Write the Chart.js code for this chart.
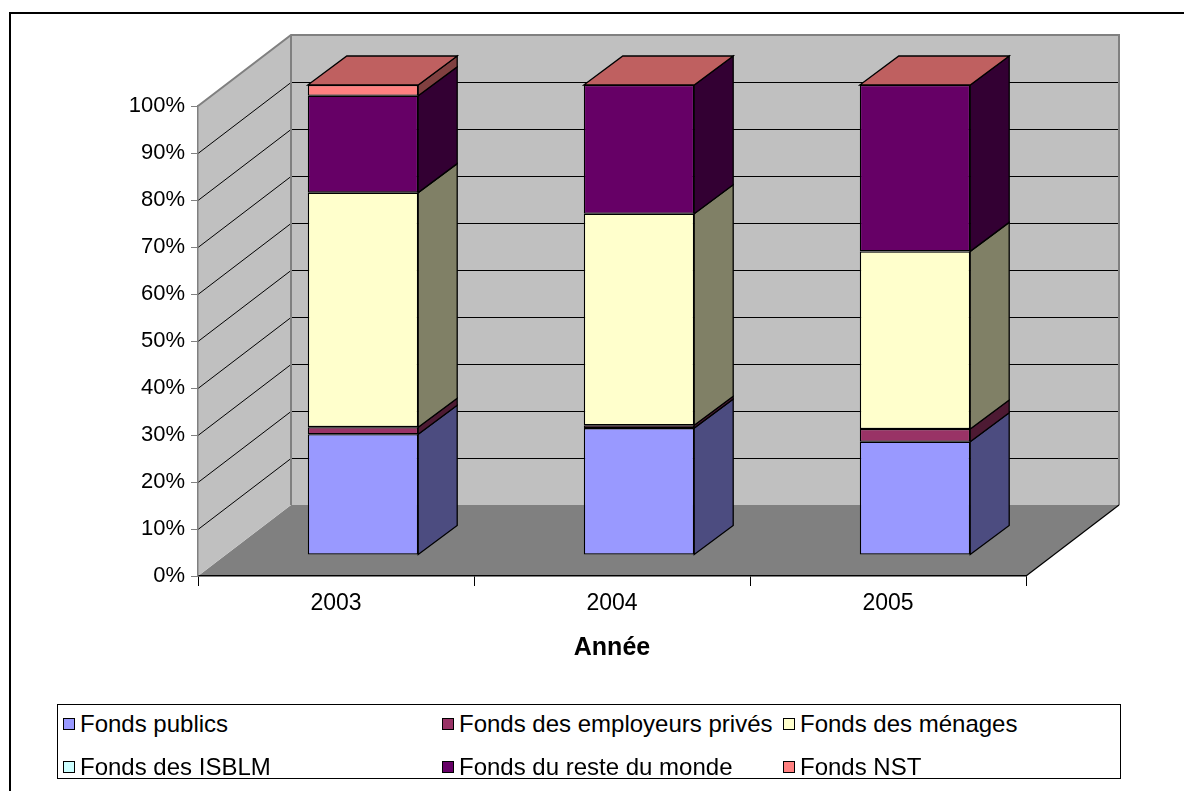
<!DOCTYPE html>
<html><head><meta charset="utf-8">
<script src="https://cdn.jsdelivr.net/npm/chart.js@4.4.0/dist/chart.umd.min.js"></script>
<style>
html,body{margin:0;padding:0;background:#fff;overflow:hidden;}
#wrap{position:relative;width:1184px;height:791px;overflow:hidden;}
#frame{position:absolute;left:9px;top:12px;width:1200px;height:800px;border:2px solid #000;box-sizing:border-box;}
canvas{position:absolute;left:0;top:0;}
#legend{position:absolute;left:57px;top:704px;width:1064px;height:75px;border:1px solid #000;box-sizing:border-box;background:#fff;font-family:'Liberation Sans',Arial,sans-serif;font-size:24px;color:#000;}
.item{position:absolute;display:flex;align-items:center;white-space:nowrap;height:28px;}
.sw{width:12px;height:12px;border:1px solid #000;box-sizing:border-box;margin-right:5px;}
</style></head>
<body><div id="wrap"><div id="frame"></div><canvas id="c" width="1184" height="791"></canvas><div id="legend"></div></div>
<script>
// ---- data ----
const categories = ['2003', '2004', '2005'];
const seriesNames = ['Fonds publics', 'Fonds des employeurs privés', 'Fonds des ménages', 'Fonds des ISBLM', 'Fonds du reste du monde', 'Fonds NST'];
const fondsPublics = [25.7, 27.0, 24.1];
const fondsEmployeurs = [1.5, 0.6, 2.7];
const fondsMenages = [49.9, 45.0, 37.8];
const fondsISBLM = [0, 0, 0];
const fondsResteMonde = [20.6, 27.4, 35.4];
const fondsNST = [2.3, 0, 0];
const yTickValues = [0, 10, 20, 30, 40, 50, 60, 70, 80, 90, 100];
const axisTitle = 'Année';

// ---- styles ----
const frontColors = ['#9999FF', '#993366', '#FFFFCC', '#CCFFFF', '#660066', '#FF8080'];
const sideColors  = ['#4C4C80', '#4D1A33', '#808066', '#668080', '#330033', '#804040'];
const topColors   = ['#7373BF', '#73264D', '#BFBF99', '#99BFBF', '#4D004D', '#BF6060'];
const seriesValues = [fondsPublics, fondsEmployeurs, fondsMenages, fondsISBLM, fondsResteMonde, fondsNST];

const wallDepth = {dx: 93, dy: -71};
const barShift = {dx: 27, dy: -21};
const barDepth = {dx: 39, dy: -29};
const FONT = "'Liberation Sans', Arial, sans-serif";

function poly(ctx, pts, fill, stroke, lw) {
  ctx.beginPath();
  ctx.moveTo(pts[0][0], pts[0][1]);
  for (let i = 1; i < pts.length; i++) ctx.lineTo(pts[i][0], pts[i][1]);
  ctx.closePath();
  if (fill) { ctx.fillStyle = fill; ctx.fill(); }
  if (stroke) { ctx.strokeStyle = stroke; ctx.lineWidth = lw || 1; ctx.stroke(); }
}

const wallsPlugin = {
  id: 'walls',
  beforeDraw(chart) {
    const {ctx, chartArea: a, scales: {y}} = chart;
    const L = a.left, R = a.right, T = y.getPixelForValue(100), B = y.getPixelForValue(0);
    const dx = wallDepth.dx, dy = wallDepth.dy;
    ctx.save();
    poly(ctx, [[L, B], [R, B], [R + dx, B + dy], [L + dx, B + dy]], '#808080');
    poly(ctx, [[L, B], [L, T], [L + dx, T + dy], [L + dx, B + dy]], '#C0C0C0');
    poly(ctx, [[L + dx, T + dy], [R + dx, T + dy], [R + dx, B + dy], [L + dx, B + dy]], '#C0C0C0');
    ctx.strokeStyle = '#000'; ctx.lineWidth = 1;
    y.ticks.forEach(t => {
      if (t.value <= 0 || t.value >= 100) return;
      const py = Math.round(y.getPixelForValue(t.value)) + 0.5;
      ctx.beginPath();
      ctx.moveTo(L, py);
      ctx.lineTo(L + dx, py + dy);
      ctx.lineTo(R + dx, py + dy);
      ctx.stroke();
    });
    ctx.strokeStyle = '#808080'; ctx.lineWidth = 2;
    ctx.beginPath();
    ctx.moveTo(L, T); ctx.lineTo(L + dx, T + dy); ctx.lineTo(R + dx, T + dy); ctx.lineTo(R + dx, B + dy);
    ctx.moveTo(L + dx, T + dy); ctx.lineTo(L + dx, B + dy);
    ctx.stroke();
    ctx.strokeStyle = '#000'; ctx.lineWidth = 1.2;
    ctx.beginPath(); ctx.moveTo(R, B); ctx.lineTo(R + dx, B + dy); ctx.stroke();
    ctx.restore();
  }
};

const bars3dPlugin = {
  id: 'bars3d',
  beforeDatasetsDraw(chart) {
    chart.ctx.save();
    chart.ctx.translate(barShift.dx, barShift.dy);
  },
  afterDatasetsDraw(chart) {
    const ctx = chart.ctx;
    const n = chart.data.datasets.length;
    const dx = barDepth.dx, dy = barDepth.dy;
    for (let i = 0; i < categories.length; i++) {
      for (let d = 0; d < n; d++) {
        if (!seriesValues[d][i]) continue;
        const el = chart.getDatasetMeta(d).data[i];
        const p = el.getProps(['x', 'y', 'base', 'width'], true);
        const r = p.x + p.width / 2;
        const top = Math.min(p.y, p.base), bot = Math.max(p.y, p.base);
        poly(ctx, [[r, top], [r + dx, top + dy], [r + dx, bot + dy], [r, bot]], sideColors[d], '#000', 1.3);
      }
      const topEl = chart.getDatasetMeta(n - 1).data[i].getProps(['x', 'y', 'base', 'width'], true);
      const l = topEl.x - topEl.width / 2, r = topEl.x + topEl.width / 2, t = Math.min(topEl.y, topEl.base);
      poly(ctx, [[l, t], [l + dx, t + dy], [r + dx, t + dy], [r, t]], topColors[n - 1], '#000', 1.3);
    }
    ctx.restore();
  }
};

const datasets = seriesNames.map((name, k) => ({
  label: name,
  data: seriesValues[k],
  backgroundColor: frontColors[k],
  borderColor: '#000',
  borderWidth: c => (c.raw ? 1.3 : 0),
  borderSkipped: false,
  categoryPercentage: 0.8,
  barPercentage: 0.5,
  clip: false
}));

new Chart(document.getElementById('c'), {
  type: 'bar',
  data: {labels: categories, datasets},
  options: {
    responsive: false,
    animation: false,
    devicePixelRatio: 1,
    layout: {padding: {left: 10, top: 106, right: 158, bottom: 128}},
    plugins: {legend: {display: false}, tooltip: {enabled: false}},
    scales: {
      x: {
        stacked: true,
        grid: {offset: true, drawOnChartArea: false, color: '#000', tickLength: 10, lineWidth: 1},
        border: {color: '#000', width: 1.5},
        ticks: {color: '#000', font: {family: FONT, size: 23}, padding: 4, maxRotation: 0},
        title: {display: true, text: axisTitle, color: '#000', font: {family: FONT, size: 25, weight: 'bold'}, padding: {top: 0, bottom: 0}},
        afterFit: s => { s.height = 87; }
      },
      y: {
        stacked: true,
        min: 0, max: 100,
        afterBuildTicks: s => { s.ticks = yTickValues.map(v => ({value: v})); },
        grid: {drawOnChartArea: false, color: '#808080', tickLength: 7, lineWidth: 1},
        border: {color: '#808080', width: 1.5},
        ticks: {color: '#000', font: {family: FONT, size: 22}, padding: 6, callback: v => v + '%'},
        afterFit: s => { s.width = 188; }
      }
    }
  },
  plugins: [wallsPlugin, bars3dPlugin]
});

// ---- legend (HTML, built from the series arrays) ----
const legendCols = [5, 384, 725];
const legendRows = [5, 48];
const legend = document.getElementById('legend');
seriesNames.forEach((name, k) => {
  const item = document.createElement('div');
  item.className = 'item';
  item.style.left = legendCols[k % 3] + 'px';
  item.style.top = legendRows[Math.floor(k / 3)] + 'px';
  const sw = document.createElement('span');
  sw.className = 'sw';
  sw.style.background = frontColors[k];
  const tx = document.createElement('span');
  tx.textContent = name;
  item.appendChild(sw); item.appendChild(tx);
  legend.appendChild(item);
});
</script>
</body></html>
